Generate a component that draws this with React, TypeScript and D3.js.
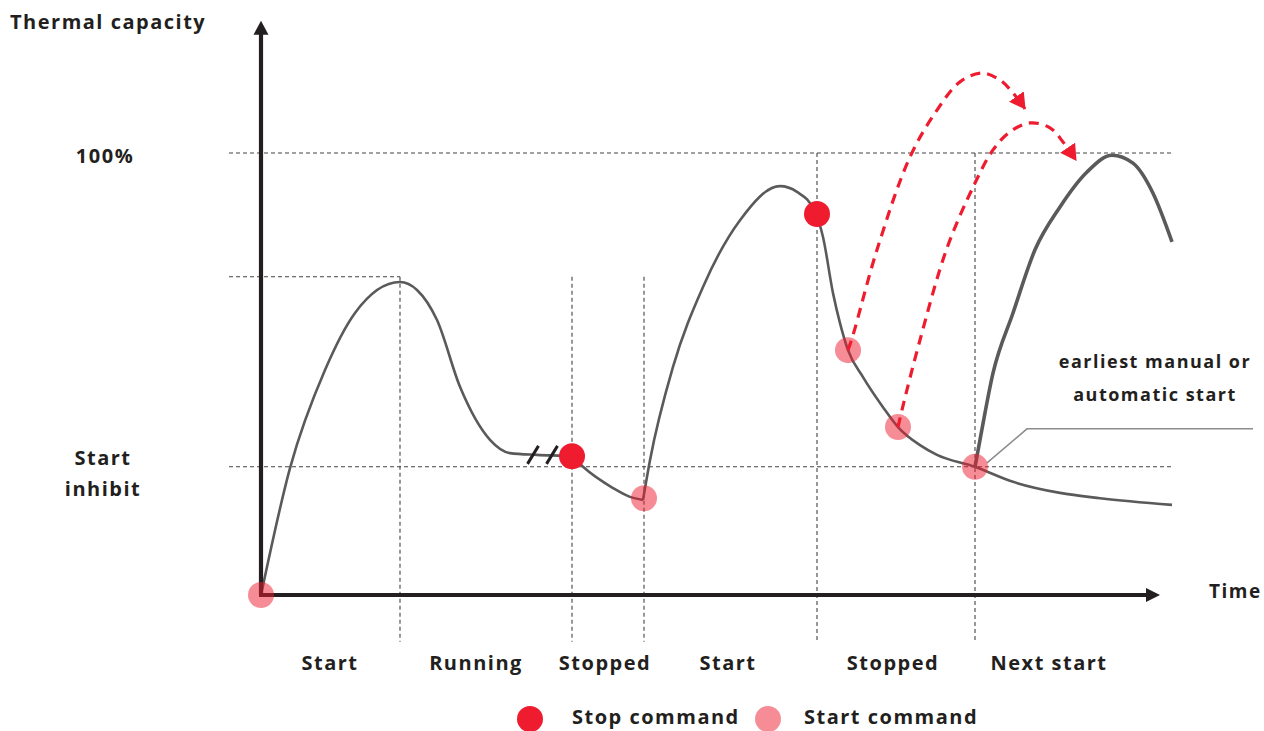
import * as d3 from "d3";
import { useEffect, useRef } from "react";

// time axis units (arbitrary), thermal capacity in %
const runCurve: [number, number][] = [
  [0, 0], [29, 28.7], [64, 50.9], [94, 63.8], [139, 70.8], [156, 69.0],
  [176, 62.2], [199, 47.1], [229, 35.1], [249, 32.1], [276, 31.7], [311, 31.4],
  [322, 29.0], [352, 24.2], [369, 22.2], [382, 21.5],
];
const restartCurve: [number, number][] = [
  [382, 21.5], [389, 30.5], [412, 51.6], [442, 69.7], [479, 84.8], [519, 92.5],
  [536, 91.2], [554, 86.7], [562, 81.0], [572, 68.3], [579, 61.5], [587, 55.4],
  [602, 49.3], [622, 42.5], [637, 38.0], [659, 33.9], [676, 31.7], [714, 29.0],
  [752, 25.6], [799, 23.1], [839, 21.9], [911, 20.4],
];
const nextStartCurve: [number, number][] = [
  [714, 29.0], [719, 35.1], [732, 50.2], [752, 63.8], [774, 78.1], [799, 87.8],
  [826, 95.7], [851, 99.5], [872, 97.7], [892, 90.9], [911, 79.9],
];
const forecast1: [number, number][] = [
  [587, 55.4], [592, 58.8], [616, 78.1], [649, 99.1], [676, 109.7], [699, 116.1],
  [721, 118.1], [739, 116.5], [752, 113.6], [764, 110.0],
];
const forecast2: [number, number][] = [
  [637, 38.0], [641, 41.9], [659, 57.7], [686, 78.5], [714, 93.2], [732, 100.7],
  [749, 104.8], [769, 106.8], [789, 105.7], [802, 102.5], [815, 98.4],
];
const stopCommands: [number, number][] = [[311, 31.4], [556, 86.2]];
const startCommands: [number, number][] = [
  [0, 0], [383, 21.9], [587, 55.4], [637, 38.0], [714, 29.0],
];
const phaseTimes = [139, 311, 383, 556, 714];
const phaseTops = [72, 72, 72, 100, 100];
const phaseLabels = ["Start", "Running", "Stopped", "Start", "Stopped", "Next start"];
const phaseCenters = [69, 215, 344, 467, 632, 788];
const levelValues = [100, 72, 29];
const levelEnds = [911, 139, 911];
const breakMarks = [272, 291];
const leader: [number, number][] = [[726, 29.9], [766, 37.6], [992, 37.6]];

const FONT = "'Open Sans', 'Noto Sans', sans-serif";
const INK = "#231f20";
const RED = "#ee1c2e";

export default function App() {
  const ref = useRef<SVGSVGElement>(null);

  useEffect(() => {
    if (!ref.current) return;
    const svg = d3.select(ref.current);
    svg.selectAll("*").remove();

    const x = d3.scaleLinear().domain([0, 900]).range([261, 1161]);
    const y = d3.scaleLinear().domain([0, 100]).range([595, 153]);

    const smooth = d3
      .line<[number, number]>()
      .x((d) => x(d[0]))
      .y((d) => y(d[1]))
      .curve(d3.curveMonotoneX);

    const line = d3
      .line<[number, number]>()
      .x((d) => x(d[0]))
      .y((d) => y(d[1]))
      .curve(d3.curveCatmullRom.alpha(0.5));

    const defs = svg.append("defs");
    defs
      .append("marker")
      .attr("id", "redhead")
      .attr("viewBox", "0 0 16 18")
      .attr("markerUnits", "userSpaceOnUse")
      .attr("markerWidth", 16)
      .attr("markerHeight", 18)
      .attr("refX", 15)
      .attr("refY", 9)
      .attr("orient", "auto")
      .append("path")
      .attr("d", "M0,0 L16,9 L0,18 Z")
      .style("fill", RED);

    // reference levels
    levelValues.forEach((v, i) => {
      svg
        .append("line")
        .attr("x1", x(-32))
        .attr("x2", x(levelEnds[i]))
        .attr("y1", y(v))
        .attr("y2", y(v))
        .style("stroke", "#444")
        .style("stroke-width", 1.1)
        .style("stroke-dasharray", "4,3");
    });

    // phase boundaries
    phaseTimes.forEach((t, i) => {
      svg
        .append("line")
        .attr("x1", x(t))
        .attr("x2", x(t))
        .attr("y1", y(phaseTops[i]))
        .attr("y2", y(-10.6))
        .style("stroke", "#444")
        .style("stroke-width", 1.1)
        .style("stroke-dasharray", "4,3");
    });

    // thermal curve
    [runCurve, restartCurve].forEach((c) => {
      svg
        .append("path")
        .attr("d", smooth(c))
        .style("fill", "none")
        .style("stroke", "#5a5a5a")
        .style("stroke-width", 2.6);
    });
    svg
      .append("path")
      .attr("d", smooth(nextStartCurve))
      .style("fill", "none")
      .style("stroke", "#5a5a5a")
      .style("stroke-width", 3.6);

    // break marks
    breakMarks.forEach((t) => {
      const cx = x(t);
      const cy = y(31.7);
      svg
        .append("line")
        .attr("x1", cx - 5.5)
        .attr("y1", cy + 9)
        .attr("x2", cx + 5.5)
        .attr("y2", cy - 9)
        .style("stroke", INK)
        .style("stroke-width", 3);
    });

    // leader line
    svg
      .append("path")
      .attr("d", d3.line<[number, number]>().x((d) => x(d[0])).y((d) => y(d[1]))(leader))
      .style("fill", "none")
      .style("stroke", "#8c8c8c")
      .style("stroke-width", 1.5);

    // axes
    const axisTop = 127;
    const axisEnd = 886;
    svg
      .append("line")
      .attr("x1", x(0))
      .attr("x2", x(0))
      .attr("y1", y(0))
      .attr("y2", y(axisTop))
      .style("stroke", INK)
      .style("stroke-width", 4.2);
    svg
      .append("path")
      .attr("d", `M${x(0)},${y(axisTop) - 13} L${x(0) + 7.5},${y(axisTop) + 1} L${x(0) - 7.5},${y(axisTop) + 1} Z`)
      .style("fill", INK);
    svg
      .append("line")
      .attr("x1", x(0) - 2)
      .attr("x2", x(axisEnd))
      .attr("y1", y(0))
      .attr("y2", y(0))
      .style("stroke", INK)
      .style("stroke-width", 4.2);
    svg
      .append("path")
      .attr("d", `M${x(axisEnd) + 13},${y(0)} L${x(axisEnd) - 1},${y(0) - 7} L${x(axisEnd) - 1},${y(0) + 7} Z`)
      .style("fill", INK);

    // forecast arrows
    [forecast1, forecast2].forEach((c) => {
      svg
        .append("path")
        .attr("d", line(c))
        .style("fill", "none")
        .style("stroke", RED)
        .style("stroke-width", 3.2)
        .style("stroke-dasharray", "10,7")
        .attr("marker-end", "url(#redhead)");
    });

    // commands
    svg
      .selectAll(".stop")
      .data(stopCommands)
      .enter()
      .append("circle")
      .attr("cx", (d) => x(d[0]))
      .attr("cy", (d) => y(d[1]))
      .attr("r", 13)
      .style("fill", RED);
    svg
      .selectAll(".start")
      .data(startCommands)
      .enter()
      .append("circle")
      .attr("cx", (d) => x(d[0]))
      .attr("cy", (d) => y(d[1]))
      .attr("r", 13)
      .style("fill", RED)
      .style("opacity", 0.5);

    const text = (tx: number, ty: number, s: string, anchor = "middle", size = 20) =>
      svg
        .append("text")
        .attr("x", tx)
        .attr("y", ty)
        .attr("text-anchor", anchor)
        .style("font-family", FONT)
        .style("font-weight", 700)
        .style("font-size", `${size}px`)
        .style("letter-spacing", "1.5px")
        .style("fill", INK)
        .text(s);

    text(10, 29, "Thermal capacity", "start");
    text(105, y(100) + 10, "100%");
    text(103, y(29) - 2, "Start");
    text(103, y(29) + 29, "inhibit");
    text(1209, y(0) + 3, "Time", "start", 19);
    text(1155, 368, "earliest manual or", "middle", 18);
    text(1155, 401, "automatic start", "middle", 18);

    phaseLabels.forEach((s, i) => text(x(phaseCenters[i]), 670, s));

    // legend
    svg.append("circle").attr("cx", 530).attr("cy", 719).attr("r", 13).style("fill", RED);
    text(572, 724, "Stop command", "start");
    svg
      .append("circle")
      .attr("cx", 768)
      .attr("cy", 719)
      .attr("r", 13)
      .style("fill", RED)
      .style("opacity", 0.5);
    text(804, 724, "Start command", "start");
  }, []);

  return (
    <svg
      ref={ref}
      width={1264}
      height={731}
      style={{ position: "absolute", left: 0, top: 0, background: "#fff" }}
    />
  );
}
